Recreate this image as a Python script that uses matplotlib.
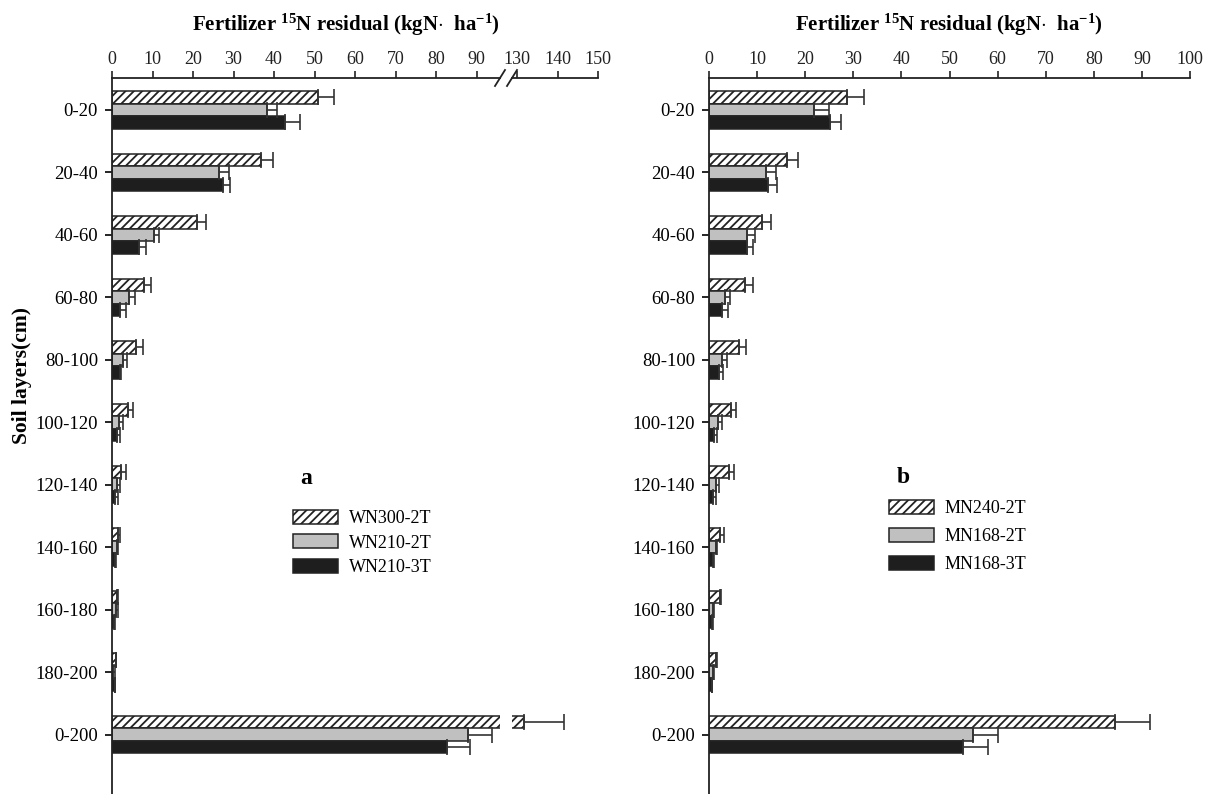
import numpy as np
import matplotlib.pyplot as plt

plt.rcParams['font.family'] = ['Liberation Serif', 'DejaVu Serif']
plt.rcParams['mathtext.fontset'] = 'custom'
plt.rcParams['mathtext.rm'] = 'Liberation Serif:bold'
plt.rcParams['mathtext.default'] = 'rm'
plt.rcParams['hatch.linewidth'] = 1.3
plt.rcParams['hatch.color'] = '#222222'

layers = ['0-20', '20-40', '40-60', '60-80', '80-100', '100-120',
          '120-140', '140-160', '160-180', '180-200', '0-200']

# panel a (wheat)
wn300_2t = [50.8, 36.7, 21.1, 7.9, 5.9, 3.9, 2.2, 1.6, 1.2, 0.9, 131.7]
wn300_2t_err = [4.1, 3.1, 2.0, 1.8, 1.7, 1.2, 1.2, 0.4, 0.4, 0.2, 10.0]
wn210_2t = [38.2, 26.5, 10.3, 4.1, 2.7, 1.7, 1.2, 1.3, 1.1, 0.3, 87.8]
wn210_2t_err = [2.5, 2.5, 1.4, 1.6, 1.0, 1.0, 0.7, 0.3, 0.3, 0.4, 6.1]
wn210_3t = [42.7, 27.3, 6.7, 2.0, 1.9, 1.2, 0.8, 0.7, 0.5, 0.7, 82.6]
wn210_3t_err = [3.6, 1.9, 1.8, 1.4, 0.3, 0.8, 0.6, 0.2, 0.2, 0.1, 5.7]

# panel b (maize)
mn240_2t = [28.7, 16.3, 11.1, 7.4, 6.3, 4.6, 4.2, 2.3, 2.3, 1.5, 84.4]
mn240_2t_err = [3.6, 2.2, 1.7, 1.7, 1.4, 1.0, 1.0, 0.8, 0.2, 0.1, 7.3]
mn168_2t = [21.9, 11.8, 8.0, 3.3, 2.8, 1.8, 1.5, 1.5, 0.9, 0.9, 54.9]
mn168_2t_err = [3.1, 2.1, 1.6, 1.1, 1.0, 1.0, 0.6, 0.1, 0.2, 0.1, 5.2]
mn168_3t = [25.1, 12.3, 7.8, 2.6, 2.1, 1.1, 0.9, 0.9, 0.6, 0.6, 52.8]
mn168_3t_err = [2.3, 1.9, 1.4, 1.4, 0.9, 0.6, 0.6, 0.1, 0.2, 0.1, 5.2]

W, H = 1213, 794
fig = plt.figure(figsize=(W / 100, H / 100), dpi=100)
top = 1 - 78 / H

ax1 = fig.add_axes([112 / W, 0, 388 / W, top])
ax2 = fig.add_axes([512 / W, 0, 86 / W, top])
ax3 = fig.add_axes([709 / W, 0, 481 / W, top])

y = np.arange(len(layers))
offs = [-0.2, 0.0, 0.2]
faces = ['white', '#c0c0c0', '#1e1e1e']
hatches = ['////', None, None]


def draw_bars(ax, series, errs):
    handles = []
    for vals, err, off, fc, hc in zip(series, errs, offs, faces, hatches):
        b = ax.barh(y + off, vals, height=0.2, facecolor=fc, edgecolor='#222222',
                    linewidth=1.1, hatch=hc)
        ax.errorbar(vals, y + off, xerr=[np.zeros(len(vals)), err], fmt='none',
                    ecolor='#333333', elinewidth=1.2, capsize=5.5, capthick=1.2)
        handles.append(b)
    ax.set_ylim(10.95, -0.51)
    ax.xaxis.tick_top()
    ax.tick_params(axis='x', direction='out', length=5, width=1.2, labelsize=13, pad=2,
                   colors='#222222')
    for s in ['right', 'bottom']:
        ax.spines[s].set_visible(False)
    for s in ['top', 'left']:
        ax.spines[s].set_linewidth(1.3)
        ax.spines[s].set_color('#222222')
    return handles


wn = [wn300_2t, wn210_2t, wn210_3t]
wn_err = [wn300_2t_err, wn210_2t_err, wn210_3t_err]
mn = [mn240_2t, mn168_2t, mn168_3t]
mn_err = [mn240_2t_err, mn168_2t_err, mn168_3t_err]

h1 = draw_bars(ax1, wn, wn_err)
draw_bars(ax2, wn, wn_err)
h3 = draw_bars(ax3, mn, mn_err)

# broken axis, panel a
ax1.set_xlim(0, 95.8)
ax1.set_xticks(np.arange(0, 91, 10))
ax2.set_xlim(128.7, 150)
ax2.set_xticks([130, 140, 150])
ax2.spines['left'].set_visible(False)
ax2.set_yticks([])

ax3.set_xlim(0, 100)
ax3.set_xticks(np.arange(0, 101, 10))

for ax in [ax1, ax3]:
    ax.set_yticks(y, layers)
    ax.tick_params(axis='y', direction='out', length=5, width=1.2, labelsize=13.5, pad=5)

# break marks
dy = 8 / (top * H)
kw = dict(color='#222222', lw=1.3, clip_on=False)
ax1.plot([1 - 5 / 388, 1 + 5 / 388], [1 - dy, 1 + dy], transform=ax1.transAxes, **kw)
ax2.plot([-5 / 86, 5 / 86], [1 - dy, 1 + dy], transform=ax2.transAxes, **kw)

title = r'Fertilizer $^{15}$N residual (kgN$\cdot$  ha$^{-1}$)'
fig.text(346 / W, 1 - 25 / H, title, ha='center', va='center', fontsize=15,
         fontweight='bold')
fig.text(949 / W, 1 - 25 / H, title, ha='center', va='center', fontsize=15,
         fontweight='bold')
fig.text(22 / W, 1 - 375 / H, 'Soil layers(cm)', rotation=90, ha='center', va='center',
         fontsize=15.5, fontweight='bold')

fig.text(306 / W, 1 - 478 / H, 'a', ha='center', va='center', fontsize=17, fontweight='bold')
fig.text(903 / W, 1 - 477 / H, 'b', ha='center', va='center', fontsize=17, fontweight='bold')

ax1.legend(h1, ['WN300-2T', 'WN210-2T', 'WN210-3T'], loc='upper left',
           bbox_to_anchor=(293 / W, 1 - 510 / H), bbox_transform=fig.transFigure,
           frameon=False, fontsize=13, handlelength=2.5, handleheight=0.8,
           handletextpad=0.6, labelspacing=0.4, borderpad=0, borderaxespad=0)
ax3.legend(h3, ['MN240-2T', 'MN168-2T', 'MN168-3T'], loc='upper left',
           bbox_to_anchor=(889 / W, 1 - 500 / H), bbox_transform=fig.transFigure,
           frameon=False, fontsize=13, handlelength=2.5, handleheight=0.8,
           handletextpad=0.6, labelspacing=0.6, borderpad=0, borderaxespad=0)

fig.savefig('out.png', dpi=100)
